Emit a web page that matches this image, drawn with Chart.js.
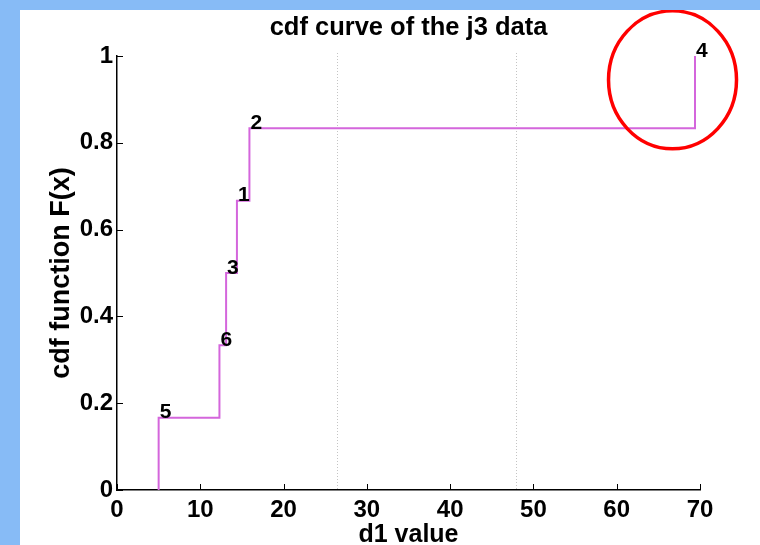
<!DOCTYPE html>
<html>
<head>
<meta charset="utf-8">
<script src="https://cdn.jsdelivr.net/npm/chart.js@4/dist/chart.umd.min.js"></script>
<style>
  html, body { margin: 0; padding: 0; background: #87bbf6; }
  body { width: 760px; height: 545px; position: relative; overflow: hidden; }
  #wrap { position: absolute; left: 20px; top: 10px; width: 740px; height: 535px; background: #ffffff; }
</style>
</head>
<body>
<div id="wrap"><canvas id="c" width="740" height="535"></canvas></div>
<script>
// ---- data ----
const stepX = [5.0, 12.3, 13.1, 14.4, 15.9, 69.4];          // d1 values where the cdf jumps
const cdfValues = [0.1667, 0.3333, 0.5, 0.6667, 0.8333, 1.0]; // F(x) after each jump
const pointLabels = ['5', '6', '3', '1', '2', '4'];           // sample index labels
const refLines = [26.4, 47.9];                                // dotted vertical reference lines
const xTicks = [0, 10, 20, 30, 40, 50, 60, 70];
const yTicks = [0, 0.2, 0.4, 0.6, 0.8, 1];
const chartTitle = 'cdf curve of the j3 data';
const highlight = { x: 66.7, y: 0.945 };                      // red circle centre (data units)

const FONT = "'Liberation Sans', Arial, Helvetica, sans-serif";

const stepPoints = [{ x: stepX[0], y: 0 }].concat(stepX.map((x, i) => ({ x: x, y: cdfValues[i] })));

const decorations = {
  id: 'decorations',
  beforeDatasetsDraw(chart) {
    const { ctx, chartArea, scales: { x } } = chart;
    ctx.save();
    ctx.strokeStyle = '#c4c4c4';
    ctx.lineWidth = 1;
    ctx.setLineDash([1, 2]);
    refLines.forEach(v => {
      const px = Math.round(x.getPixelForValue(v)) + 0.5;
      ctx.beginPath();
      ctx.moveTo(px, chartArea.top - 3);
      ctx.lineTo(px, chartArea.bottom);
      ctx.stroke();
    });
    ctx.restore();
  },
  afterDraw(chart) {
    const { ctx, chartArea, scales: { x, y } } = chart;
    ctx.save();
    // title centred over the plot area
    ctx.fillStyle = '#000';
    ctx.font = 'bold 25.5px ' + FONT;
    ctx.textAlign = 'center';
    ctx.textBaseline = 'middle';
    ctx.fillText(chartTitle, (chartArea.left + chartArea.right) / 2, 18);
    // inward tick marks
    ctx.strokeStyle = '#000';
    ctx.lineWidth = 1;
    xTicks.forEach(v => {
      const px = Math.round(x.getPixelForValue(v)) + 0.5;
      ctx.beginPath();
      ctx.moveTo(px, chartArea.bottom);
      ctx.lineTo(px, chartArea.bottom - 6);
      ctx.stroke();
    });
    yTicks.forEach(v => {
      const py = Math.round(y.getPixelForValue(v)) + 0.5;
      ctx.beginPath();
      ctx.moveTo(chartArea.left, py);
      ctx.lineTo(chartArea.left + 6, py);
      ctx.stroke();
    });
    // point labels
    ctx.font = 'bold 21px ' + FONT;
    ctx.textAlign = 'left';
    ctx.textBaseline = 'middle';
    stepX.forEach((v, i) => {
      ctx.fillText(pointLabels[i], x.getPixelForValue(v) + 1, y.getPixelForValue(cdfValues[i]) - 5);
    });
    // red highlight ellipse
    ctx.strokeStyle = '#ff0000';
    ctx.lineWidth = 3.5;
    ctx.beginPath();
    ctx.ellipse(x.getPixelForValue(highlight.x), y.getPixelForValue(highlight.y), 64, 69, 0, 0, Math.PI * 2);
    ctx.stroke();
    ctx.restore();
  }
};

new Chart(document.getElementById('c'), {
  type: 'scatter',
  data: {
    datasets: [{
      data: stepPoints,
      showLine: true,
      stepped: 'before',
      borderColor: '#d466dc',
      backgroundColor: '#d466dc',
      borderWidth: 2,
      pointRadius: 0,
      fill: false
    }]
  },
  options: {
    responsive: false,
    animation: false,
    devicePixelRatio: 1,
    layout: { padding: { left: 0, right: 60, top: 46, bottom: 0 } },
    plugins: {
      legend: { display: false },
      tooltip: { enabled: false },
      title: { display: false }
    },
    scales: {
      x: {
        type: 'linear',
        min: 0, max: 70,
        afterBuildTicks(scale) { scale.ticks = xTicks.map(v => ({ value: v })); },
        afterFit(scale) { scale.height = 55; },
        grid: { display: false, drawTicks: false },
        border: { display: true, color: '#000', width: 1.5 },
        ticks: {
          color: '#000',
          padding: 6,
          maxRotation: 0,
          font: { family: FONT, size: 24, weight: 'bold' },
          callback: v => String(v)
        },
        title: {
          display: true,
          text: 'd1 value',
          color: '#000',
          font: { family: FONT, size: 25, weight: 'bold', lineHeight: 1 },
          padding: { top: 0, bottom: -3 }
        }
      },
      y: {
        type: 'linear',
        min: 0, max: 1,
        afterBuildTicks(scale) { scale.ticks = yTicks.map(v => ({ value: v })); },
        afterFit(scale) { scale.width = 97; },
        grid: { display: false, drawTicks: false },
        border: { display: true, color: '#000', width: 1.5 },
        ticks: {
          color: '#000',
          padding: 4,
          font: { family: FONT, size: 24, weight: 'bold' },
          callback: v => String(v)
        },
        title: {
          display: true,
          text: 'cdf function F(x)',
          color: '#000',
          font: { family: FONT, size: 27, weight: 'bold', lineHeight: 1 },
          padding: { top: 28, bottom: 0 }
        }
      }
    }
  },
  plugins: [decorations]
});
</script>
</body>
</html>
